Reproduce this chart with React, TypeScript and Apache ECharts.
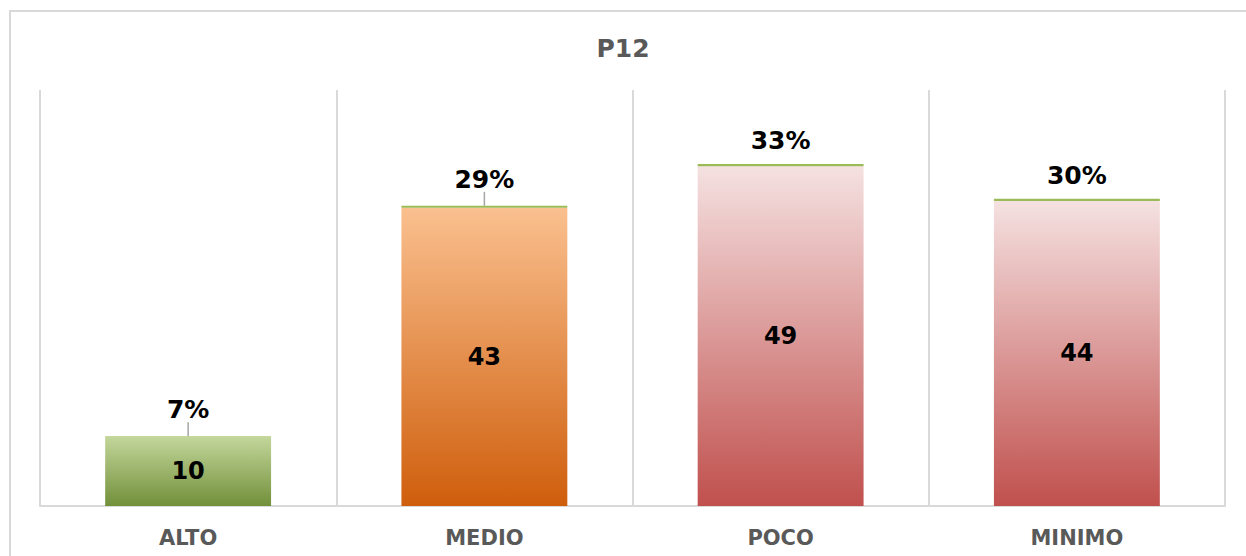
import React, { useEffect, useRef } from "react";
import * as echarts from "echarts";

const categories = ["ALTO", "MEDIO", "POCO", "MINIMO"];
const counts = [10, 43, 49, 44];
const percents = [7, 29, 33, 30];
const topColors = ["#c3d69b", "#fac08f", "#f5e1e1", "#f5e1e1"];
const bottomColors = ["#72903a", "#cf5e0c", "#c0504d", "#c0504d"];
const showLeader = [true, true, false, false];

export default function App() {
  const ref = useRef<HTMLDivElement>(null);
  useEffect(() => {
    if (!ref.current) return;
    const chart = echarts.init(ref.current, undefined, { renderer: "svg" });
    const font = "'DejaVu Sans', Verdana, sans-serif";
    chart.setOption({
      animation: false,
      backgroundColor: "#ffffff",
      title: {
        text: "P12",
        left: "center",
        top: 31,
        textStyle: { fontFamily: font, fontWeight: "bold", fontSize: 25, color: "#595959" },
      },
      graphic: [
        {
          type: "rect",
          shape: { x: 10, y: 11, width: 1300, height: 600 },
          style: { fill: "none", stroke: "#d9d9d9", lineWidth: 2 },
          silent: true,
        },
      ],
      grid: { left: 40, right: 21, top: 90, bottom: 50 },
      xAxis: {
        type: "category",
        data: categories,
        axisTick: { show: false },
        axisLine: { show: true, lineStyle: { color: "#d9d9d9", width: 2 } },
        splitLine: { show: true, lineStyle: { color: "#d9d9d9", width: 2 } },
        axisLabel: {
          fontFamily: font,
          fontWeight: "bold",
          fontSize: 21,
          color: "#595959",
          margin: 21,
        },
      },
      yAxis: {
        type: "value",
        min: 0,
        max: 60,
        show: false,
        splitLine: { show: false },
      },
      series: [
        {
          name: "Cantidad",
          type: "bar",
          stack: "total",
          barWidth: "56%",
          data: counts.map((v, i) => ({
            value: v,
            itemStyle: {
              color: new echarts.graphic.LinearGradient(0, 0, 0, 1, [
                { offset: 0, color: topColors[i] },
                { offset: 1, color: bottomColors[i] },
              ]),
            },
          })),
          label: {
            show: true,
            position: "inside",
            fontFamily: font,
            fontWeight: "bold",
            fontSize: 24,
            color: "#000000",
          },
        },
        {
          name: "Porcentaje",
          type: "bar",
          stack: "total",
          barWidth: "56%",
          data: percents.map((p, i) => ({
            value: p / 100,
            labelLine: { show: showLeader[i] },
          })),
          itemStyle: { color: "#9bbb59" },
          label: {
            show: true,
            position: "top",
            distance: 4,
            fontFamily: font,
            fontWeight: "bold",
            fontSize: 25,
            color: "#000000",
            formatter: (p: any) => percents[p.dataIndex] + "%",
          },
          labelLayout: (params: any) => ({ dy: params.dataIndex < 2 ? -10 : -7 }),
          labelLine: {
            show: true,
            length2: 0,
            lineStyle: { color: "#a6a6a6", width: 1.5 },
          },
        },
      ],
    });
    return () => chart.dispose();
  }, []);
  return (
    <div
      ref={ref}
      style={{ position: "absolute", left: 0, top: 0, width: 1246, height: 556 }}
    />
  );
}
